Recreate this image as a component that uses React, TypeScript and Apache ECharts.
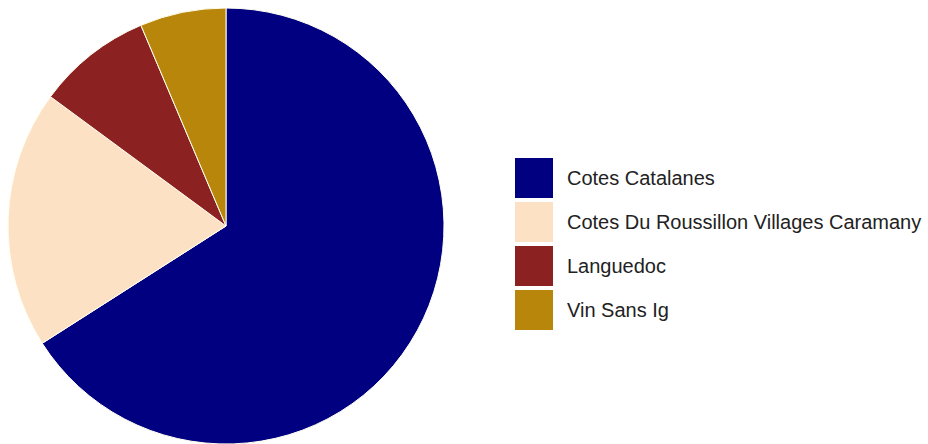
import React, { useEffect, useRef } from "react";
import * as echarts from "echarts";

const categories = [
  "Cotes Catalanes",
  "Cotes Du Roussillon Villages Caramany",
  "Languedoc",
  "Vin Sans Ig",
];
const values = [31, 9, 4, 3];
const colors = ["#000080", "#FDE1C4", "#8B2121", "#B8860B"];

export default function App() {
  const ref = useRef<HTMLDivElement>(null);
  useEffect(() => {
    if (!ref.current) return;
    const chart = echarts.init(ref.current, null, { renderer: "svg" });
    chart.setOption({
      animation: false,
      color: colors,
      legend: {
        orient: "vertical",
        left: 515,
        top: 158,
        padding: 0,
        icon: "rect",
        itemWidth: 38,
        itemHeight: 40,
        itemGap: 4,
        selectedMode: false,
        itemStyle: { borderWidth: 0 },
        textStyle: {
          fontFamily: "Liberation Sans, Arial, sans-serif",
          fontSize: 20,
          color: "#222222",
          padding: [0, 0, 0, 9],
        },
        data: categories,
      },
      series: [
        {
          type: "pie",
          center: [226, 226],
          radius: 218,
          startAngle: 90,
          clockwise: true,
          label: { show: false },
          labelLine: { show: false },
          emphasis: { disabled: true },
          itemStyle: { borderColor: "#FFFFF0", borderWidth: 1 },
          data: categories.map((name, i) => ({ name, value: values[i] })),
        },
      ],
    });
    return () => chart.dispose();
  }, []);
  return (
    <div
      ref={ref}
      style={{ position: "fixed", left: 0, top: 0, width: 928, height: 444, background: "#fff" }}
    />
  );
}
